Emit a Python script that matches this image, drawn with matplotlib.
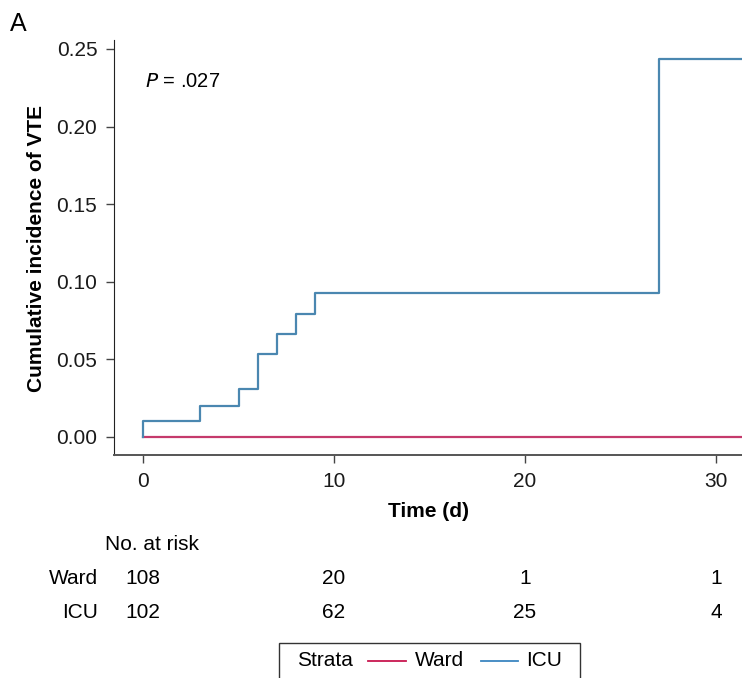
import matplotlib.pyplot as plt
from matplotlib.lines import Line2D
from matplotlib.patches import Rectangle
from matplotlib.transforms import blended_transform_factory

plt.rcParams['font.family'] = ['Liberation Sans', 'DejaVu Sans']

# step data
icu_t = [0, 0, 3, 5, 6, 7, 8, 9, 27, 32]
icu_ci = [0.0, 0.0098, 0.0196, 0.0306, 0.0530, 0.0660, 0.0790, 0.0925, 0.2436, 0.2436]
ward_t = [0, 32]
ward_ci = [0.0, 0.0]

# risk table
risk_times = [0, 10, 20, 30]
ward_risk = [108, 20, 1, 1]
icu_risk = [102, 62, 25, 4]

ward_col = '#c53a6c'
icu_col = '#4a87b0'

W, H = 742, 678
fig = plt.figure(figsize=(W / 100, H / 100), dpi=100)
ax = fig.add_axes([114 / W, 1 - 455 / H, 1 - 114 / W, (455 - 40) / H])

ax.step(ward_t, ward_ci, where='post', color=ward_col, lw=1.6)
ax.step(icu_t, icu_ci, where='post', color=icu_col, lw=1.6)

ax.set_xlim(-1.52, 31.36)
ax.set_ylim(-0.0119, 0.2558)
ax.set_xticks([0, 10, 20, 30])
ax.set_yticks([0, 0.05, 0.10, 0.15, 0.20, 0.25])
ax.set_yticklabels(['0.00', '0.05', '0.10', '0.15', '0.20', '0.25'])
ax.tick_params(labelsize=15, length=6, width=1, color='#444444', labelcolor='#1a1a1a', pad=6)
ax.spines['top'].set_visible(False)
ax.spines['right'].set_visible(False)
ax.spines['left'].set_color('#222222')
ax.spines['bottom'].set_color('#555555')
ax.spines['bottom'].set_linewidth(1.4)

ax.set_xlabel('Time (d)', fontsize=15, fontweight='bold', labelpad=8)
fig.text(37 / W, 1 - 248 / H, 'Cumulative incidence of VTE', rotation=90,
         fontsize=15, fontweight='bold', ha='center', va='center')

ax.text(0.05, 0.901, r'$\it{P}$ = .027', transform=ax.transAxes, fontsize=14.5, va='center')
fig.text(10 / W, 1 - 24 / H, 'A', fontsize=18, va='center')

# number at risk table
tr = blended_transform_factory(ax.transData, fig.transFigure)
fig.text(105 / W, 1 - 545 / H, 'No. at risk', fontsize=15, va='center')
fig.text(98 / W, 1 - 579 / H, 'Ward', fontsize=15, va='center', ha='right')
fig.text(98 / W, 1 - 613 / H, 'ICU', fontsize=15, va='center', ha='right')
for t, w, i in zip(risk_times, ward_risk, icu_risk):
    ax.text(t, 1 - 579 / H, str(w), transform=tr, fontsize=15, ha='center', va='center')
    ax.text(t, 1 - 613 / H, str(i), transform=tr, fontsize=15, ha='center', va='center')

# legend box (cut off at bottom edge)
fig.add_artist(Rectangle((279 / W, 1 - 700 / H), (580 - 279) / W, (700 - 643) / H,
                         transform=fig.transFigure, fill=False, ec='#333333', lw=1))
ly = 1 - 661 / H
fig.text(297 / W, ly, 'Strata', fontsize=15, va='center')
fig.add_artist(Line2D([368 / W, 406 / W], [ly, ly], transform=fig.transFigure, color='#c8174f', lw=1.3))
fig.text(415 / W, ly, 'Ward', fontsize=15, va='center')
fig.add_artist(Line2D([481 / W, 518 / W], [ly, ly], transform=fig.transFigure, color='#3b86c0', lw=1.3))
fig.text(526 / W, ly, 'ICU', fontsize=15, va='center')

fig.savefig('out.png', dpi=100)
